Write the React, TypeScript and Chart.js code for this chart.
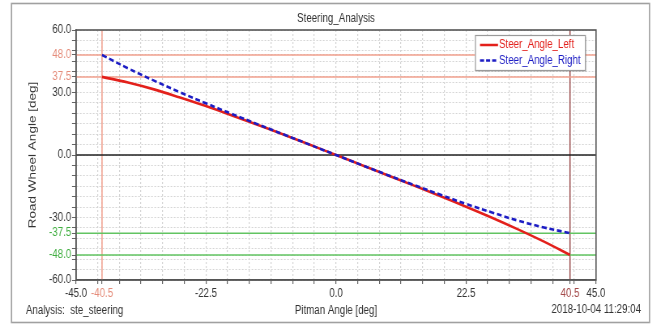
import React, { useEffect, useRef } from "react";
import { Chart, registerables } from "chart.js";

Chart.register(...registerables);

// ---- data ----
const pitmanAngles = [-40.5, -36, -31.5, -27, -22.5, -18, -13.5, -9, -4.5, 0, 4.5, 9, 13.5, 18, 22.5, 27, 31.5, 36, 40.5];
const steerLeft = [37.5, 34.8, 31.5, 27.6, 23.5, 19.0, 14.4, 9.7, 4.9, 0, -4.9, -9.8, -14.7, -19.7, -24.8, -30.1, -35.7, -41.6, -48.0];
const steerRight = [48.0, 41.6, 35.7, 30.1, 24.8, 19.7, 14.7, 9.8, 4.9, 0, -4.9, -9.7, -14.4, -19.0, -23.5, -27.6, -31.5, -34.8, -37.5];

const upperLimits = [48.0, 37.5];
const lowerLimits = [-37.5, -48.0];
const xLimitLeft = -40.5;
const xLimitRight = 40.5;

const xLabelTicks = [-45, -22.5, 0, 22.5, 45];
const yLabelTicks = [-60, -30, 0, 30, 60];
const xRange = [-45, 45];
const yRange = [-60, 60];

const titleText = "Steering_Analysis";
const xTitle = "Pitman Angle [deg]";
const yTitle = "Road Wheel Angle [deg]";
const footerLeft = "Analysis:  ste_steering";
const footerRight = "2018-10-04 11:29:04";
const seriesNames = ["Steer_Angle_Left", "Steer_Angle_Right"];

// ---- styles ----
// the reference's text is horizontally condensed; we draw on a wider canvas and squeeze it
const S = 0.81;
const W = Math.round(653 / S);
const H = 326;
const sx = (x: number) => x / S;

const FONT = "'Liberation Sans', Arial, sans-serif";
const TEXT = "#333333";
const RED = "#e3201b";
const BLUE = "#1c1cc4";
const SALMON = "#f2a08e";
const DARKRED = "#9c4f4f";
const GREEN = "#62c462";
const SALMON_TXT = "#e58c7a";
const GREEN_TXT = "#3fae3f";
const DARKRED_TXT = "#a34848";

const near = (a: number, b: number) => Math.abs(a - b) < 1e-6;

const decorPlugin = {
  id: "decor",
  beforeDraw(chart: any) {
    const { ctx } = chart;
    ctx.save();
    ctx.fillStyle = "#ffffff";
    ctx.fillRect(0, 0, chart.width, chart.height);
    ctx.strokeStyle = "#a0a0a0";
    ctx.lineWidth = 1.6;
    ctx.strokeRect(sx(11.5), 3.5, sx(638), 319);
    ctx.restore();
  },
  afterDraw(chart: any) {
    const { ctx, chartArea } = chart;
    ctx.save();
    // plot frame
    ctx.strokeStyle = "#555555";
    ctx.lineWidth = 1.6;
    ctx.strokeRect(chartArea.left, chartArea.top, chartArea.right - chartArea.left, chartArea.bottom - chartArea.top);

    // footer texts
    ctx.font = `12px ${FONT}`;
    ctx.fillStyle = TEXT;
    ctx.textBaseline = "middle";
    ctx.textAlign = "left";
    ctx.fillText(footerLeft, sx(26), 311);
    ctx.textAlign = "right";
    ctx.fillText(footerRight, sx(641), 310);

    // legend box
    const bx = chartArea.right - sx(121);
    const by = chartArea.top + 5;
    const bw = sx(110);
    const bh = 35;
    ctx.fillStyle = "rgba(0,0,0,0.12)";
    ctx.fillRect(bx + 2, by + 2, bw, bh);
    ctx.fillStyle = "#ffffff";
    ctx.fillRect(bx, by, bw, bh);
    ctx.strokeStyle = "#9a9a9a";
    ctx.lineWidth = 1.2;
    ctx.strokeRect(bx + 0.5, by + 0.5, bw, bh);
    const items = [
      { label: chart.data.datasets[0].label, color: RED, dash: [] as number[], y: by + 10 },
      { label: chart.data.datasets[1].label, color: BLUE, dash: [5, 2.5], y: by + 25.5 },
    ];
    items.forEach((it) => {
      ctx.strokeStyle = it.color;
      ctx.lineWidth = 2.5;
      ctx.setLineDash(it.dash);
      ctx.beginPath();
      ctx.moveTo(bx + sx(5), it.y);
      ctx.lineTo(bx + sx(23), it.y);
      ctx.stroke();
      ctx.setLineDash([]);
      ctx.fillStyle = it.color;
      ctx.textAlign = "left";
      ctx.textBaseline = "middle";
      ctx.font = `12px ${FONT}`;
      ctx.fillText(it.label, bx + sx(24), it.y);
    });
    ctx.restore();
  },
};

const hLine = (y: number, color: string) => ({
  label: "ref",
  data: [
    { x: xRange[0], y },
    { x: xRange[1], y },
  ],
  borderColor: color,
  borderWidth: 1.5,
  pointRadius: 0,
  order: 10,
});
const vLine = (x: number, color: string) => ({
  label: "ref",
  data: [
    { x, y: yRange[0] },
    { x, y: yRange[1] },
  ],
  borderColor: color,
  borderWidth: 1.5,
  pointRadius: 0,
  order: 10,
});

export default function App() {
  const ref = useRef<HTMLCanvasElement | null>(null);
  useEffect(() => {
    if (!ref.current) return;
    const chart = new Chart(ref.current, {
      type: "line",
      data: {
        datasets: [
          {
            label: seriesNames[0],
            data: pitmanAngles.map((x, i) => ({ x, y: steerLeft[i] })),
            borderColor: RED,
            borderWidth: 2.6,
            pointRadius: 0,
            tension: 0.4,
            order: 1,
          },
          {
            label: seriesNames[1],
            data: pitmanAngles.map((x, i) => ({ x, y: steerRight[i] })),
            borderColor: BLUE,
            borderWidth: 2.6,
            borderDash: [6, 3.5],
            pointRadius: 0,
            tension: 0.4,
            order: 0,
          },
          ...upperLimits.map((v) => hLine(v, SALMON)),
          ...lowerLimits.map((v) => hLine(v, GREEN)),
          hLine(0, "#222222"),
          vLine(xLimitLeft, SALMON),
          vLine(xLimitRight, DARKRED),
        ] as any,
      },
      options: {
        animation: false,
        responsive: false,
        devicePixelRatio: 1,
        layout: { padding: { left: 0, right: W - sx(596), top: 0, bottom: 0 } },
        plugins: {
          legend: { display: false },
          tooltip: { enabled: false },
          title: {
            display: true,
            text: titleText,
            fullSize: false,
            color: TEXT,
            font: { family: FONT, size: 12, weight: "normal", lineHeight: 1.2 },
            padding: { top: 11.8, bottom: 3.8 },
          },
        },
        scales: {
          x: {
            type: "linear",
            min: xRange[0],
            max: xRange[1],
            afterFit(scale: any) {
              scale.height = 46;
            },
            afterBuildTicks(scale: any) {
              const t = scale.ticks.map((k: any) => k.value);
              [xLimitLeft, xLimitRight].forEach((v) => {
                if (!t.some((a: number) => near(a, v))) t.push(v);
              });
              t.sort((a: number, b: number) => a - b);
              scale.ticks = t.map((v: number) => ({ value: v }));
            },
            ticks: {
              stepSize: 3.75,
              autoSkip: false,
              maxRotation: 0,
              padding: 2,
              font: { family: FONT, size: 12 },
              color: (c: any) => {
                const v = c.tick?.value;
                if (near(v, xLimitLeft)) return SALMON_TXT;
                if (near(v, xLimitRight)) return DARKRED_TXT;
                return TEXT;
              },
              callback: (v: any) => {
                const n = Number(v);
                if (xLabelTicks.some((a) => near(a, n)) || near(n, xLimitLeft) || near(n, xLimitRight)) return n.toFixed(1);
                return "";
              },
            },
            grid: {
              color: "#d4d4d4",
              lineWidth: 1.2,
              tickColor: "#666666",
              tickLength: 4,
              tickWidth: 1.2,
              tickBorderDash: [],
            },
            border: { display: true, color: "#555555", width: 1.6, dash: [2, 2] },
            title: {
              display: true,
              text: xTitle,
              color: TEXT,
              font: { family: FONT, size: 12, lineHeight: 1.2 },
              padding: { top: 0, bottom: 7.8 },
            },
          },
          y: {
            type: "linear",
            min: yRange[0],
            max: yRange[1],
            afterFit(scale: any) {
              scale.width = sx(76);
            },
            afterBuildTicks(scale: any) {
              const t = scale.ticks.map((k: any) => k.value);
              [...upperLimits, ...lowerLimits].forEach((v) => {
                if (!t.some((a: number) => near(a, v))) t.push(v);
              });
              t.sort((a: number, b: number) => a - b);
              scale.ticks = t.map((v: number) => ({ value: v }));
            },
            ticks: {
              stepSize: 5,
              autoSkip: false,
              padding: 1,
              font: { family: FONT, size: 12 },
              color: (c: any) => {
                const v = c.tick?.value;
                if (upperLimits.some((a) => near(a, v))) return SALMON_TXT;
                if (lowerLimits.some((a) => near(a, v))) return GREEN_TXT;
                return TEXT;
              },
              callback: (v: any) => {
                const n = Number(v);
                if (yLabelTicks.some((a) => near(a, n)) || upperLimits.some((a) => near(a, n)) || lowerLimits.some((a) => near(a, n)))
                  return n.toFixed(1);
                return "";
              },
            },
            grid: {
              color: "#d4d4d4",
              lineWidth: 1,
              tickColor: "#666666",
              tickLength: sx(4),
              tickBorderDash: [],
            },
            border: { display: true, color: "#555555", width: 1.6, dash: [2, 2] },
            title: {
              display: true,
              text: yTitle,
              color: TEXT,
              font: { family: FONT, size: 13.5, lineHeight: 1.2 },
              padding: { top: sx(33) - 8.1, bottom: 0 },
            },
          },
        },
      } as any,
      plugins: [decorPlugin],
    });
    return () => chart.destroy();
  }, []);
  return (
    <div style={{ position: "fixed", left: 0, top: 0, width: 653, height: H, overflow: "hidden", background: "#fff" }}>
      <div style={{ width: W, height: H, transform: `scaleX(${S})`, transformOrigin: "0 0" }}>
        <canvas ref={ref} width={W} height={H} style={{ display: "block", width: W, height: H }} />
      </div>
    </div>
  );
}
